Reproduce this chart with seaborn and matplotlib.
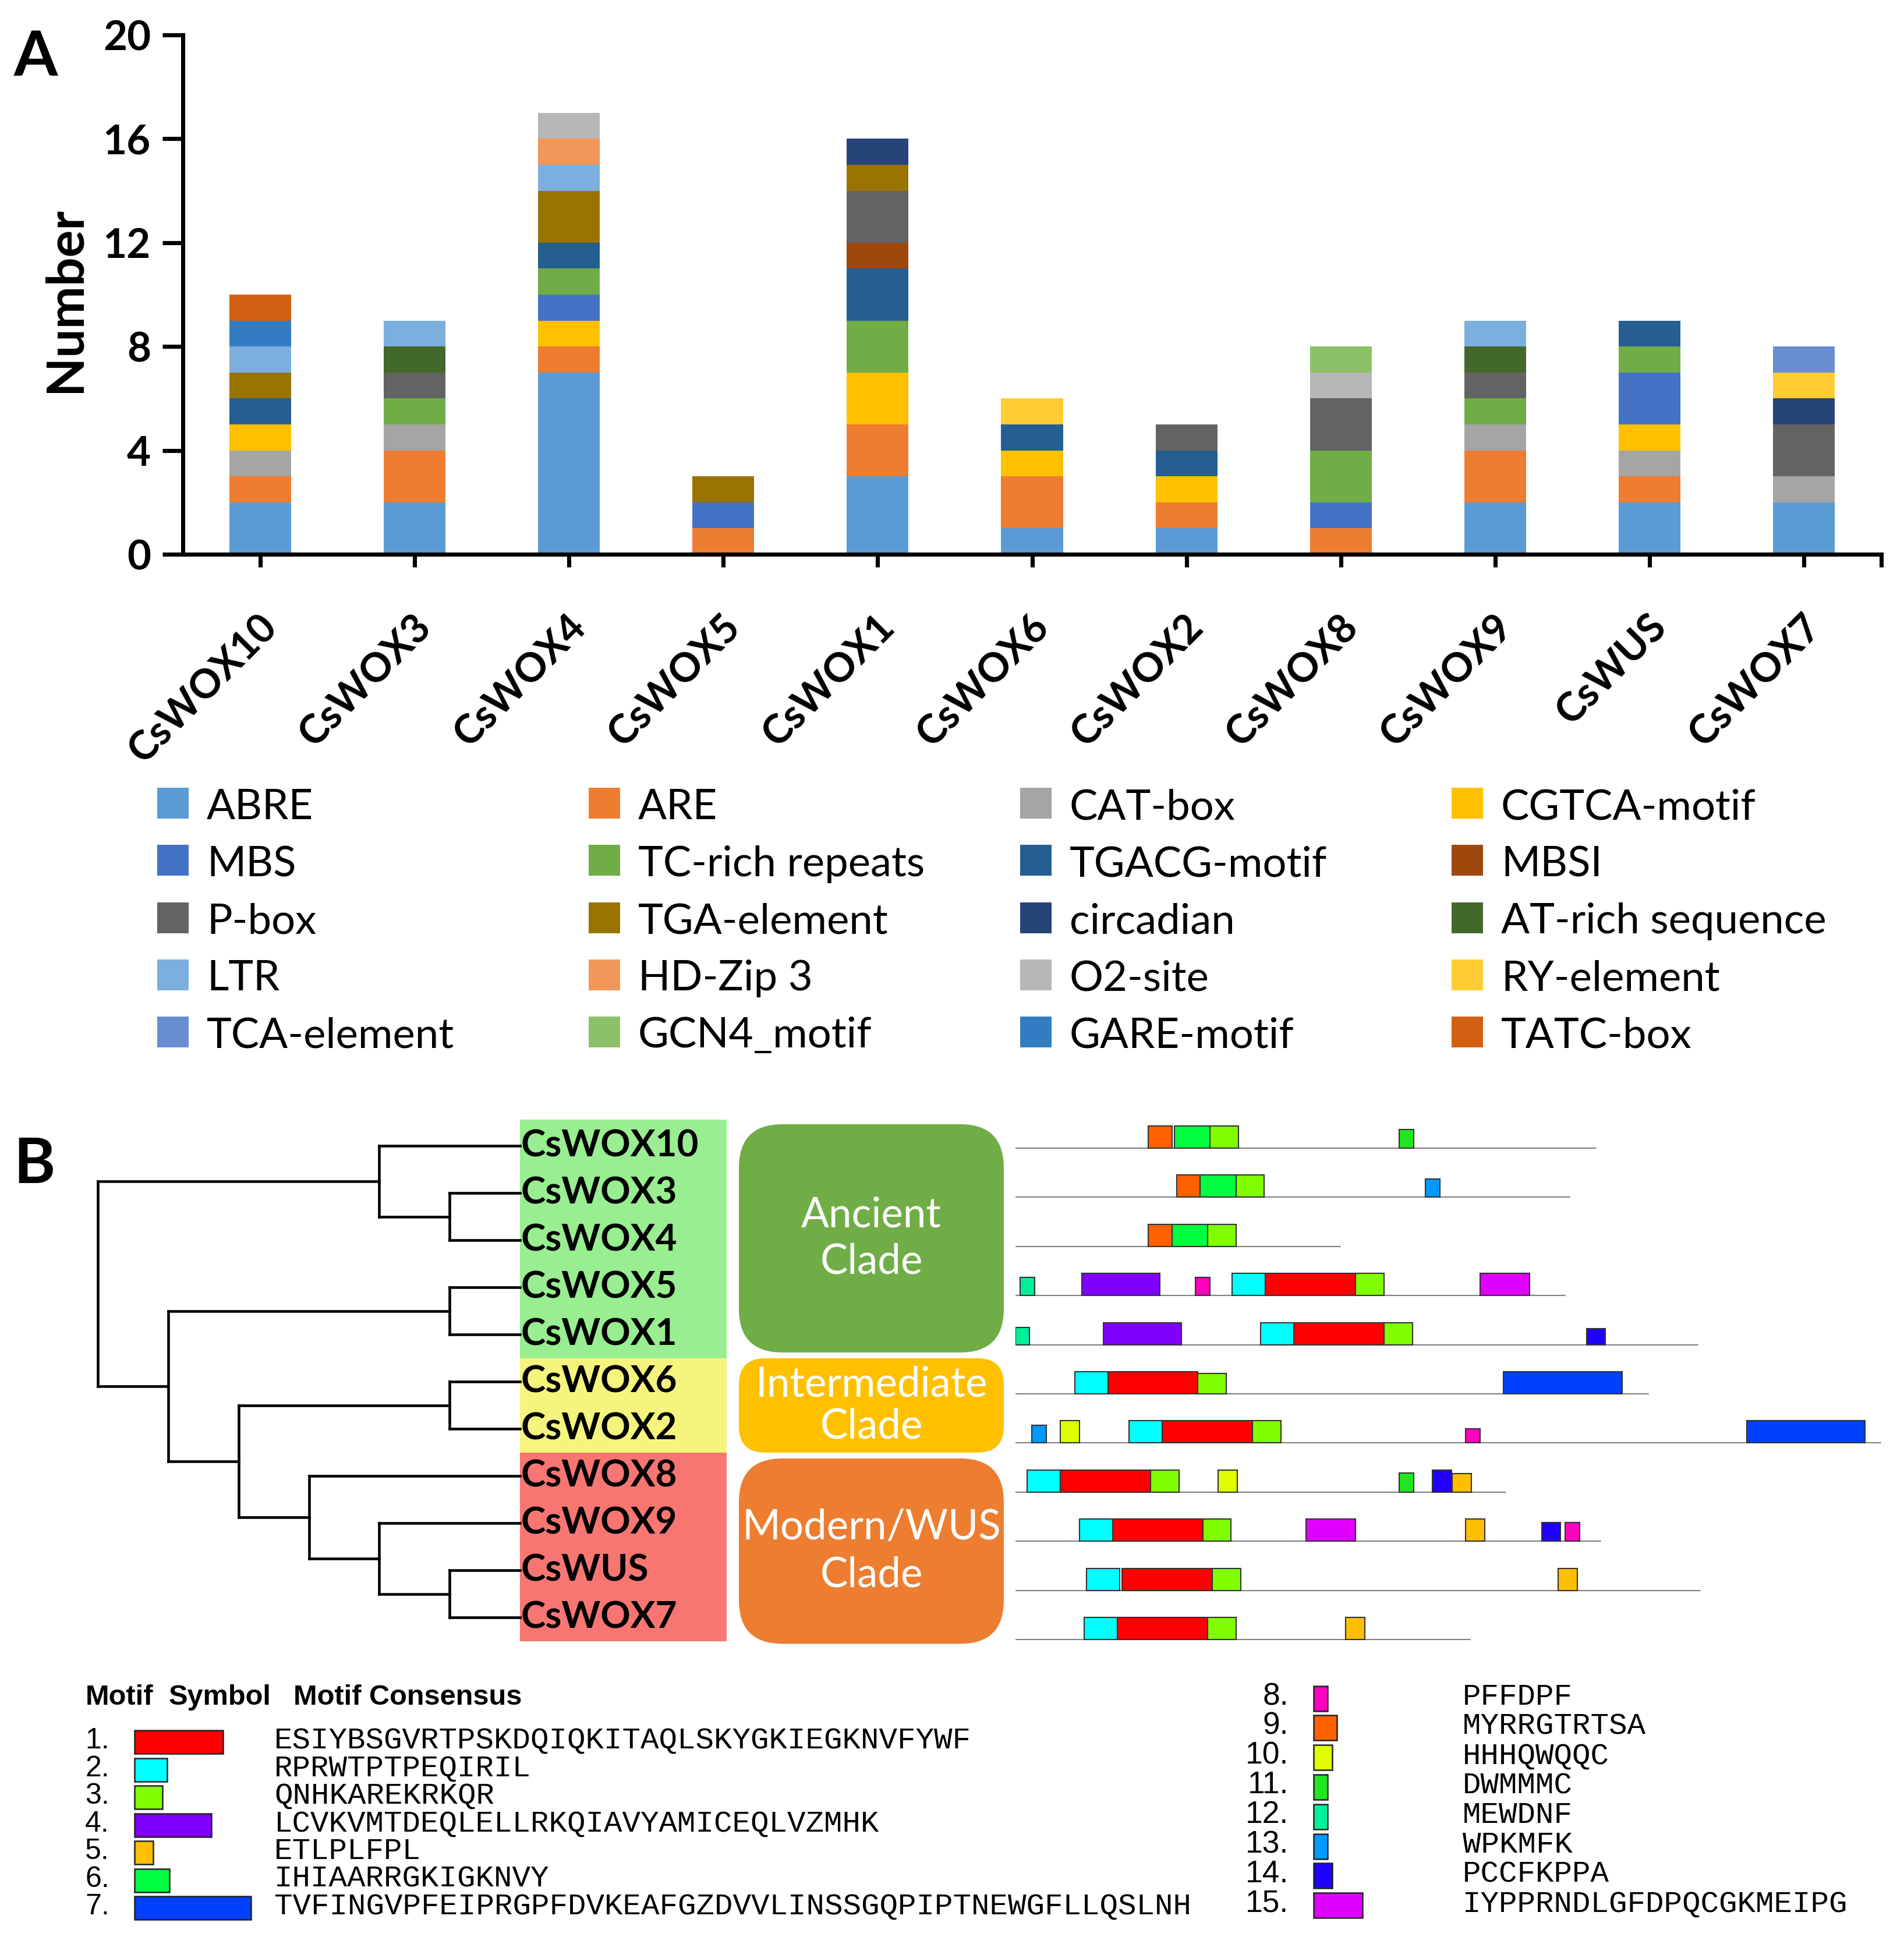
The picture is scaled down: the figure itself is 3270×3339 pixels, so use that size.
import numpy as np
import pandas as pd
import matplotlib
matplotlib.use('Agg')
import matplotlib.pyplot as plt
import matplotlib.transforms as mtransforms
from matplotlib.patches import Rectangle, FancyBboxPatch
import seaborn as sns

# figure size in pixels
W, H = 3270, 3339
DPI = 300

# ---------------- panel A data ----------------
genes = ['CsWOX10', 'CsWOX3', 'CsWOX4', 'CsWOX5', 'CsWOX1', 'CsWOX6',
         'CsWOX2', 'CsWOX8', 'CsWOX9', 'CsWUS', 'CsWOX7']

elements = ['ABRE', 'ARE', 'CAT-box', 'CGTCA-motif',
            'MBS', 'TC-rich repeats', 'TGACG-motif', 'MBSI',
            'P-box', 'TGA-element', 'circadian', 'AT-rich sequence',
            'LTR', 'HD-Zip 3', 'O2-site', 'RY-element',
            'TCA-element', 'GCN4_motif', 'GARE-motif', 'TATC-box']

element_colors = ['#5B9BD5', '#ED7D31', '#A5A5A5', '#FFC000',
                  '#4472C4', '#70AD47', '#255E91', '#9E480E',
                  '#636363', '#997300', '#264478', '#43682B',
                  '#7CAFDD', '#F1975A', '#B7B7B7', '#FFCD33',
                  '#698ED0', '#8CC168', '#327DC2', '#D26012']

# counts per gene (same order as genes), stacked bottom -> top in element order
abre = [2, 2, 7, 0, 3, 1, 1, 0, 2, 2, 2]
are = [1, 2, 1, 1, 2, 2, 1, 1, 2, 1, 0]
cat_box = [1, 1, 0, 0, 0, 0, 0, 0, 1, 1, 1]
cgtca = [1, 0, 1, 0, 2, 1, 1, 0, 0, 1, 0]
mbs = [0, 0, 1, 1, 0, 0, 0, 1, 0, 2, 0]
tc_rich = [0, 1, 1, 0, 2, 0, 0, 2, 1, 1, 0]
tgacg = [1, 0, 1, 0, 2, 1, 1, 0, 0, 1, 0]
mbsi = [0, 0, 0, 0, 1, 0, 0, 0, 0, 0, 0]
p_box = [0, 1, 0, 0, 2, 0, 1, 2, 1, 0, 2]
tga = [1, 0, 2, 1, 1, 0, 0, 0, 0, 0, 0]
circadian = [0, 0, 0, 0, 1, 0, 0, 0, 0, 0, 1]
at_rich = [0, 1, 0, 0, 0, 0, 0, 0, 1, 0, 0]
ltr = [1, 1, 1, 0, 0, 0, 0, 0, 1, 0, 0]
hd_zip3 = [0, 0, 1, 0, 0, 0, 0, 0, 0, 0, 0]
o2_site = [0, 0, 1, 0, 0, 0, 0, 1, 0, 0, 0]
ry = [0, 0, 0, 0, 0, 1, 0, 0, 0, 0, 1]
tca = [0, 0, 0, 0, 0, 0, 0, 0, 0, 0, 1]
gcn4 = [0, 0, 0, 0, 0, 0, 0, 1, 0, 0, 0]
gare = [1, 0, 0, 0, 0, 0, 0, 0, 0, 0, 0]
tatc = [1, 0, 0, 0, 0, 0, 0, 0, 0, 0, 0]

y_ticks = [0, 4, 8, 12, 16, 20]

# ---------------- panel B data ----------------
tree = (("CsWOX10", ("CsWOX3", "CsWOX4")),
        (("CsWOX5", "CsWOX1"),
         (("CsWOX6", "CsWOX2"),
          ("CsWOX8", ("CsWOX9", ("CsWUS", "CsWOX7"))))))
leaf_order = ['CsWOX10', 'CsWOX3', 'CsWOX4', 'CsWOX5', 'CsWOX1', 'CsWOX6',
              'CsWOX2', 'CsWOX8', 'CsWOX9', 'CsWUS', 'CsWOX7']
clade_names = ['Ancient\nClade', 'Intermediate\nClade', 'Modern/WUS\nClade']
clade_sizes = [5, 2, 4]

# protein lengths (aa) in leaf order
prot_len = [245, 234, 137, 232, 288, 267, 365, 207, 247, 289, 192]

# motif hits: (motif number, start aa, relative box height)
hits_wox10 = [(9, 56, 1.0), (6, 67, 1.0), (3, 82, 1.0), (11, 162, 0.83)]
hits_wox3 = [(9, 68, 1.0), (6, 78, 1.0), (3, 93, 1.0), (13, 173, 0.83)]
hits_wox4 = [(9, 56, 1.0), (6, 66, 1.0), (3, 81, 1.0)]
hits_wox5 = [(12, 2, 0.83), (4, 28, 1.0), (8, 76, 0.83), (2, 91.5, 1.0),
             (1, 105.5, 1.0), (3, 143.5, 1.0), (15, 196, 1.0)]
hits_wox1 = [(12, 0, 0.77), (4, 37, 1.0), (2, 103.5, 1.0), (1, 117.5, 1.0),
             (3, 155.5, 1.0), (14, 241, 0.73)]
hits_wox6 = [(2, 25, 1.0), (1, 39, 1.0), (3, 77, 0.93), (7, 206, 1.0)]
hits_wox2 = [(13, 7, 0.8), (10, 19, 1.0), (2, 48, 1.0), (1, 62, 1.0),
             (3, 100, 1.0), (8, 190, 0.65), (7, 308.5, 1.0)]
hits_wox8 = [(2, 5, 1.0), (1, 19, 1.0), (3, 57, 1.0), (10, 85.5, 1.0),
             (11, 162, 0.87), (14, 176, 1.0), (5, 184.3, 0.83)]
hits_wox9 = [(2, 27, 1.0), (1, 41, 1.0), (3, 79, 1.0), (15, 122.5, 1.0),
             (5, 190, 1.0), (14, 222, 0.85), (8, 232, 0.85)]
hits_wus = [(2, 30, 1.0), (1, 45, 1.0), (3, 83, 1.0), (5, 229, 1.0)]
hits_wox7 = [(2, 29, 1.0), (1, 43, 1.0), (3, 81, 1.0), (5, 139.3, 1.0)]
gene_hits = [hits_wox10, hits_wox3, hits_wox4, hits_wox5, hits_wox1, hits_wox6,
             hits_wox2, hits_wox8, hits_wox9, hits_wus, hits_wox7]

motif_len = [38, 14, 12, 33, 8, 15, 50, 6, 10, 8, 6, 6, 6, 8, 21]
motif_colors = ['#FF0000', '#00FFFF', '#80FF00', '#8000FF', '#FFBF00',
                '#00FF40', '#0040FF', '#FF00BF', '#FF6000', '#DFFF00',
                '#20E620', '#00F09A', '#0099FF', '#2000FF', '#E000FF']
motif_consensus = ['ESIYBSGVRTPSKDQIQKITAQLSKYGKIEGKNVFYWF',
                   'RPRWTPTPEQIRIL',
                   'QNHKAREKRKQR',
                   'LCVKVMTDEQLELLRKQIAVYAMICEQLVZMHK',
                   'ETLPLFPL',
                   'IHIAARRGKIGKNVY',
                   'TVFINGVPFEIPRGPFDVKEAFGZDVVLINSSGQPIPTNEWGFLLQSLNH',
                   'PFFDPF',
                   'MYRRGTRTSA',
                   'HHHQWQQC',
                   'DWMMMC',
                   'MEWDNF',
                   'WPKMFK',
                   'PCCFKPPA',
                   'IYPPRNDLGFDPQCGKMEIPG']

# ---------------- style ----------------
sns.set_style('white')
plt.rcParams['font.family'] = ['Lato', 'DejaVu Sans']
plt.rcParams.update({'text.color': 'black', 'axes.edgecolor': 'black',
                     'xtick.color': 'black', 'ytick.color': 'black',
                     'axes.labelcolor': 'black'})

fig = plt.figure(figsize=(W / DPI, H / DPI), dpi=DPI)


def px_axes(x0, y0, x1, y1):
    # pixel box (top-left origin) -> figure axes
    return fig.add_axes([x0 / W, 1 - y1 / H, (x1 - x0) / W, (y1 - y0) / H])


# ---------------- panel A: stacked bars ----------------
ax = px_axes(314, 60, 3231, 952)
ax.set_facecolor('none')
counts = np.array([abre, are, cat_box, cgtca, mbs, tc_rich, tgacg, mbsi, p_box,
                   tga, circadian, at_rich, ltr, hd_zip3, o2_site, ry, tca,
                   gcn4, gare, tatc])
cum = counts.cumsum(axis=0)
# draw cumulative totals from the top layer down, each one covering the rest
for k in reversed(range(len(elements))):
    sns.barplot(x=genes, y=cum[k], order=genes, color=element_colors[k],
                width=0.4, saturation=1, errorbar=None, linewidth=0, ax=ax)
ax.set_xlim(-0.5, 10.5)
ax.set_ylim(0, 20)
ax.set_yticks(y_ticks)
ax.set_yticklabels([str(t) for t in y_ticks], fontsize=17, fontweight='bold')
ax.set_xticks(range(len(genes)))
ax.set_xticklabels([])
# rotated gene names, right end anchored just below each tick
lab_tr = ax.get_xaxis_transform() + mtransforms.ScaledTranslation(
    4.5 / 72, -27.5 / 72, fig.dpi_scale_trans)
for i, g in enumerate(genes):
    ax.text(i, 0, g, transform=lab_tr, rotation=45, ha='right', va='center',
            rotation_mode='anchor', fontsize=16.5, fontweight='bold')
ax.set_xticks([10.5], minor=True)
ax.set_xlabel('')
ax.set_ylabel('')
sns.despine(ax=ax)
for s in ['left', 'bottom']:
    ax.spines[s].set_linewidth(1.7)
ax.tick_params(axis='x', which='both', bottom=True, length=5.3, width=1.7)
ax.tick_params(axis='y', left=True, length=8.4, width=1.7, pad=4.8)

# ---------------- panel B: tree ----------------
axt = px_axes(140, 1919.4, 1250, 2826.6)
axt.set_xlim(6.23, -2.95)
axt.set_ylim(10.6, -0.6)
axt.axis('off')


def draw_node(node):
    if isinstance(node, str):
        return leaf_order.index(node), 0
    ya, da = draw_node(node[0])
    yb, db = draw_node(node[1])
    d = max(da, db) + 1
    kw = dict(color='black', lw=1.1, solid_capstyle='projecting')
    axt.plot([d, d], [ya, yb], **kw)
    axt.plot([da, d], [ya, ya], **kw)
    axt.plot([db, d], [yb, yb], **kw)
    return (ya + yb) / 2, d


draw_node(tree)

label_bg = ['#98EE90', '#F5F57E', '#F77672']
clade_colors = ['#70AD47', '#FFC000', '#ED7D31']
start = 0
for size, c in zip(clade_sizes, label_bg):
    top = start - 0.5 if start > 0 else -0.56
    bot = start + size - 0.5 if start + size < len(leaf_order) else 10.5
    axt.add_patch(Rectangle((-2.93, top), 2.93, bot - top, facecolor=c,
                            edgecolor='none', zorder=0))
    start += size
for i, name in enumerate(leaf_order):
    axt.text(-0.01, i, name, ha='left', va='center', fontsize=15.3,
             fontweight='bold', zorder=3)

# clade boxes
axc = px_axes(1269, 1919.4, 1724, 2826.6)
axc.set_xlim(0, 1)
axc.set_ylim(10.6, -0.6)
axc.axis('off')
clade_rows = [(-0.457, 4.383), (4.506, 6.506), (6.63, 10.56)]
clade_round = [75, 45, 75]
clade_spacing = [1.3, 1.15, 1.3]
for (y0, y1), name, col, rr, ls in zip(clade_rows, clade_names, clade_colors,
                                       clade_round, clade_spacing):
    r = rr / 455
    axc.add_patch(FancyBboxPatch((0, y0), 1, y1 - y0,
                                 boxstyle=f'round,pad=0,rounding_size={r}',
                                 mutation_aspect=455 / 81,
                                 facecolor=col, edgecolor='none'))
    axc.text(0.5, (y0 + y1) / 2, name, ha='center', va='center', color='white',
             fontsize=17, linespacing=ls)

# motif structures
axm = px_axes(1744, 1900, 3270, 2860)
axm.set_xlim(0, 1526 / 4.07)
axm.set_ylim((2860 - 1972) / 84.4, (1900 - 1972) / 84.4)
axm.axis('off')
full_h = 0.45
for i, (plen, hits) in enumerate(zip(prot_len, gene_hits)):
    axm.plot([0, plen], [i, i], color='#808080', lw=0.5, zorder=1)
    for m, s, rel in hits:
        h = full_h * rel
        axm.barh(i - h / 2, motif_len[m - 1], height=h, left=s,
                 color=motif_colors[m - 1], edgecolor='#333333', linewidth=0.5,
                 zorder=2)

# ---------------- overlay: legends and panel letters ----------------
ov = fig.add_axes([0, 0, 1, 1])
ov.set_xlim(0, W)
ov.set_ylim(H, 0)
ov.axis('off')
ov.set_facecolor('none')

ov.text(61, 130, 'A', ha='center', va='baseline', fontsize=26, fontweight='bold')
ov.text(59, 2032, 'B', ha='center', va='baseline', fontsize=26, fontweight='bold')
fig.text(112 / W, 1 - 515 / H, 'Number', rotation=90, ha='center', va='center',
         fontsize=21, fontweight='bold')

# legend of panel A, row-major grid
for i, (name, c) in enumerate(zip(elements, element_colors)):
    r, cc = divmod(i, 4)
    x0 = 270 + 741 * cc
    yc = 1380 + 98 * r
    ov.add_patch(Rectangle((x0, yc - 26.5), 54, 53, facecolor=c, edgecolor='none'))
    ov.text(x0 + 85, yc + 27, name, ha='left', va='baseline', fontsize=17.4)

# motif legend
hdr = dict(ha='left', va='baseline', fontsize=11.7, fontweight='bold',
           family='Liberation Sans')
ov.text(147, 2928, 'Motif', **hdr)
ov.text(290, 2928, 'Symbol', **hdr)
ov.text(504, 2928, 'Motif Consensus', **hdr)
for k in range(15):
    if k < 7:
        yc = 2992 + 47.5 * k
        xn, xb, xt, bh, fs = 188, 231, 471, 40, 12
    else:
        yc = 2917 + 50.8 * (k - 7)
        xn, xb, xt, bh, fs = 2213, 2256, 2512, 43, 12.8
    ov.text(xn, yc + 11, f'{k + 1}.', ha='right', va='baseline', fontsize=fs,
            family='Liberation Sans')
    ov.add_patch(Rectangle((xb, yc - bh / 2), motif_len[k] * 4.0, bh,
                           facecolor=motif_colors[k], edgecolor='#222222', lw=0.6))
    ov.text(xt, yc + 11, motif_consensus[k], ha='left', va='baseline',
            fontsize=12.6, family='Liberation Mono')

fig.savefig('out.png', dpi=DPI)
